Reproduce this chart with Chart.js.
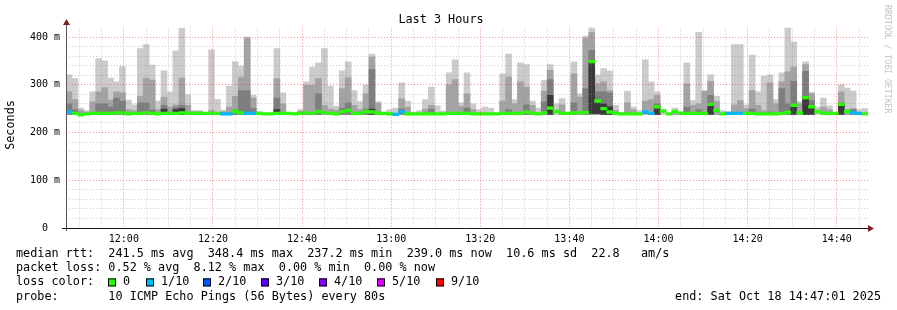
<!DOCTYPE html>
<html>
<head>
<meta charset="utf-8">
<script src="https://cdn.jsdelivr.net/npm/chart.js@4.4.0/dist/chart.umd.min.js"></script>
<style>
  html, body { margin: 0; padding: 0; background: #fff; }
</style>
</head>
<body>
<canvas id="smokeChart" width="897" height="310"></canvas>
<script>
// smokeping "Last 3 Hours" graph, one sample every 80s (135 samples)

const graphStart = "11:47:01";
const graphEnd = "14:47:01";
const stepSeconds = 80;
const hourTicks = ["12:00", "12:20", "12:40", "13:00", "13:20", "13:40", "14:00", "14:20", "14:40"];

// slowest ping of each sample (ms)
const rttMax = [
  321, 313, 251, 246, 285, 355, 350, 314, 306, 338, 268, 258, 376, 384, 341,
  266, 329, 285, 371, 418, 279, 246, 246, 241, 373, 269, 247, 297, 348, 339,
  400, 278, 244, 240, 240, 376, 283, 241, 241, 248, 306, 337, 346, 376, 297,
  255, 329, 348, 288, 265, 300, 364, 265, 243, 248, 251, 304, 266, 243, 246,
  269, 295, 256, 245, 325, 352, 262, 325, 260, 248, 253, 251, 240, 323, 364,
  269, 346, 342, 266, 251, 309, 342, 260, 271, 241, 348, 281, 402, 419, 320,
  334, 329, 257, 242, 287, 253, 246, 352, 306, 285, 248, 240, 251, 244, 346,
  267, 410, 288, 321, 276, 246, 244, 384, 384, 258, 362, 285, 318, 321, 269,
  325, 419, 390, 265, 348, 284, 253, 272, 256, 241, 300, 293, 287, 248, 250
];

// upper smoke bands (null where the band is not visible)
const smokeHigh = [
  285, 269, 246, 243, 264, 285, 294, 268, 285, 283, 248, 246, 276, 314, 310,
  248, 274, 253, 258, 314, 257, 244, 244, null, 246, null, 244, 253, 276, 316,
  398, 272, null, null, null, 313, 260, null, null, 245, 299, 299, 313, 257, 249,
  247, 292, 315, 257, 248, 281, 358, 261, null, null, null, 271, 253, null, null,
  249, 257, null, null, 300, 311, 255, 281, 248, null, null, null, null, 266, 316,
  260, 306, 295, 257, null, 287, 330, null, 258, null, 323, 274, 397, 410, 302,
  306, 288, 246, null, 262, 248, null, 266, 269, 278, null, null, 246, null, 302,
  257, 260, 286, 307, 265, null, null, 258, 267, 250, 288, 257, 246, 304, 260,
  306, 327, 337, 260, 342, 281, null, 253, 248, null, 285, 248, 250, null, null
];

const smokeMid = [
  260, 248, null, null, null, 260, 260, 253, 272, 266, null, null, 262, 262, 247,
  null, 257, null, 253, 257, null, null, null, null, null, null, null, null, 247, 288,
  288, 250, null, null, null, 272, null, null, null, null, 243, null, 281, null, null,
  null, 251, 262, null, null, 249, 332, null, null, null, null, 249, null, null, null,
  null, 249, null, null, null, null, null, 251, null, null, null, null, null, null, 248,
  null, null, 258, null, null, 264, 311, null, null, null, 262, null, 292, 372, 285,
  285, 283, null, null, null, null, null, null, null, 260, null, null, null, null, 253,
  null, 248, null, 278, null, null, null, null, null, null, 249, null, null, 243, null,
  292, 260, 307, null, 328, 267, null, null, null, null, 262, null, 248, null, null
];

const smokeCore = [
  null, null, null, null, null, null, null, null, null, null, null, null, null, null, null,
  null, 249, null, 248, 250, null, null, null, null, null, null, null, null, null, null,
  null, null, null, null, null, 248, null, null, null, null, null, null, null, null, null,
  null, null, null, null, null, null, 249, null, null, null, null, null, null, null, null,
  null, null, null, null, null, null, null, null, null, null, null, null, null, null, null,
  null, null, null, null, null, null, 278, null, null, null, null, null, null, 349, 267,
  260, 254, null, null, null, null, null, null, null, 257, null, null, null, null, null,
  null, null, null, 257, null, null, null, null, null, null, null, null, null, null, null,
  null, null, 257, null, 274, 257, null, null, null, null, 260, null, null, null, null
];

const rttMedian = [
  243, 240, 237.2, 239, 240, 240, 240, 240, 241, 241, 239, 240, 240, 241, 240,
  239, 240, 240, 240, 241, 240, 240, 240, 240, 240, 240, 239, 239, 244, 241,
  240, 240, 240, 239, 239, 240, 240, 240, 239, 240, 241, 240, 244, 241, 240,
  239, 244, 246, 240, 240, 244, 243, 240, 240, 239, 238, 243, 239, 239, 239,
  239, 239, 239, 239, 240, 240, 240, 240, 239, 239, 239, 239, 239, 240, 240,
  240, 240, 243, 240, 239, 241, 251, 244, 240, 240, 241, 241, 242, 348.4, 266,
  250, 243, 240, 239, 239, 239, 239, 243, 240, 254, 245, 239, 244, 240, 240,
  240, 240, 240, 259, 246, 239, 240, 240, 240, 240, 240, 239, 239, 239, 239,
  240, 242, 257, 241, 273, 254, 244, 240, 240, 240, 259, 244, 241, 240, 239
];

const rttMin = [
  238, 238, 237.2, 237.5, 238, 238, 238, 238, 238, 238, 237.5, 238, 238, 238, 238,
  237.5, 238, 238, 238, 238, 238, 238, 238, 238, 238, 238, 237.5, 237.5, 238, 238,
  238, 238, 238, 237.5, 237.5, 238, 238, 238, 237.5, 238, 238, 238, 238, 238, 238,
  237.5, 238, 238, 238, 238, 238, 238, 238, 238, 237.5, 237.5, 238, 237.5, 237.5, 237.5,
  237.5, 237.5, 237.5, 237.5, 238, 238, 238, 238, 237.5, 237.5, 237.5, 237.5, 237.5, 238, 238,
  238, 238, 238, 238, 237.5, 238, 238, 238, 238, 238, 238, 238, 238, 239, 239,
  238, 238, 238, 237.5, 237.5, 237.5, 237.5, 238, 238, 238, 238, 237.5, 238, 238, 238,
  238, 238, 238, 238, 238, 237.5, 238, 238, 238, 238, 238, 237.5, 237.5, 237.5, 237.5,
  238, 238, 238, 238, 238, 238, 238, 238, 238, 238, 238, 238, 238, 238, 237.5
];

// lost pings out of 10
const lossTenths = [
  1, 0, 0, 0, 0, 0, 0, 0, 0, 0, 0, 0, 0, 0, 0,
  0, 0, 0, 0, 0, 0, 0, 0, 0, 0, 0, 1, 1, 0, 0,
  1, 1, 0, 0, 0, 0, 0, 0, 0, 0, 0, 0, 0, 0, 0,
  0, 0, 0, 0, 0, 0, 0, 0, 0, 0, 1, 1, 0, 0, 0,
  0, 0, 0, 0, 0, 0, 0, 0, 0, 0, 0, 0, 0, 0, 0,
  0, 0, 0, 0, 0, 0, 0, 0, 0, 0, 0, 0, 0, 0, 0,
  0, 0, 0, 0, 0, 0, 0, 1, 1, 0, 0, 0, 0, 0, 0,
  0, 0, 0, 0, 0, 0, 1, 1, 1, 0, 0, 0, 0, 0, 0,
  0, 0, 0, 0, 0, 0, 0, 0, 0, 0, 0, 0, 1, 1, 0
];

const lossLabels = ["0", "1/10", "2/10", "3/10", "4/10", "5/10", "9/10"];
const lossColors = ["#26ff00", "#00b8ff", "#0059ff", "#5e00ff", "#7e00ff", "#dd00ff", "#ff0000"];

const legendLines = [
  "median rtt:  241.5 ms avg  348.4 ms max  237.2 ms min  239.0 ms now  10.6 ms sd  22.8   am/s",
  "packet loss: 0.52 % avg  8.12 % max  0.00 % min  0.00 % now",
  "loss color:",
  "probe:       10 ICMP Echo Pings (56 Bytes) every 80s"
];
const endLabel = "end: Sat Oct 18 14:47:01 2025";

// ---- helpers ----
function toMinutes(hms) {
  const p = hms.split(":").map(Number);
  return p[0] * 60 + p[1] + (p[2] || 0) / 60;
}

const axisStart = toMinutes(graphStart);
const axisEnd = toMinutes(graphEnd);
const sampleX = rttMax.map((_, i) => axisStart + ((i + 0.5) * stepSeconds) / 60);
const majorMinutes = hourTicks.map(toMinutes);

const gridMinutes = [];
for (let m = Math.ceil(axisStart / 5) * 5; m < axisEnd; m += 5) gridMinutes.push(m);

const MONO = '"DejaVu Sans Mono", "Liberation Mono", monospace';
const MEDIAN_HALF = 2.8; // half thickness of the median band, ms
const MAJOR_GRID = "rgba(220, 60, 60, 0.55)";
const MINOR_GRID = "rgba(140, 140, 140, 0.45)";

function lossColor(t) {
  return lossColors[Math.min(t, 6)];
}

function smokeLayer(tops, color, order) {
  const data = [];
  tops.forEach((v, i) => {
    if (v != null) data.push({ x: sampleX[i], y: [rttMin[i], v] });
  });
  return {
    data: data,
    backgroundColor: color,
    borderWidth: 0,
    grouped: false,
    barPercentage: 1,
    categoryPercentage: 1,
    order: order,
  };
}

const medianLayer = {
  data: rttMedian.map((v, i) => ({ x: sampleX[i], y: [v - MEDIAN_HALF, v + MEDIAN_HALF] })),
  backgroundColor: lossTenths.map(lossColor),
  borderWidth: 0,
  grouped: false,
  barPercentage: 1,
  categoryPercentage: 1,
  order: 0,
};

// rrdtool-ish frame, arrows and text
const decorations = {
  id: "decorations",
  beforeDraw(chart) {
    const ctx = chart.ctx;
    ctx.save();
    ctx.fillStyle = "#ffffff";
    ctx.fillRect(0, 0, chart.width, chart.height);
    ctx.restore();
  },
  afterDraw(chart) {
    const ctx = chart.ctx;
    const { left, right, top, bottom } = chart.chartArea;
    ctx.save();

    // axes
    ctx.lineWidth = 1;
    ctx.strokeStyle = "#555555";
    ctx.beginPath();
    ctx.moveTo(left + 0.5, bottom + 3);
    ctx.lineTo(left + 0.5, top - 5);
    ctx.stroke();
    ctx.strokeStyle = "#1a1a1a";
    ctx.beginPath();
    ctx.moveTo(left - 4, bottom + 0.5);
    ctx.lineTo(right + 1, bottom + 0.5);
    ctx.stroke();

    // arrows
    ctx.fillStyle = "#7f1f1f";
    ctx.beginPath();
    ctx.moveTo(left - 3, top - 2.5);
    ctx.lineTo(left + 4, top - 2.5);
    ctx.lineTo(left + 0.5, top - 8.5);
    ctx.closePath();
    ctx.fill();
    ctx.beginPath();
    ctx.moveTo(right, bottom - 3);
    ctx.lineTo(right, bottom + 4);
    ctx.lineTo(right + 6, bottom + 0.5);
    ctx.closePath();
    ctx.fill();

    // title
    ctx.fillStyle = "#000000";
    ctx.font = "11.8px " + MONO;
    ctx.textAlign = "center";
    ctx.textBaseline = "middle";
    ctx.fillText("Last 3 Hours", 441, 20);

    // vertical axis label
    ctx.save();
    ctx.translate(11, 125);
    ctx.rotate(-Math.PI / 2);
    ctx.fillText("Seconds", 0, 0);
    ctx.restore();

    // watermark
    ctx.save();
    ctx.fillStyle = "#c4c4c4";
    ctx.font = "8.2px " + MONO;
    ctx.translate(887, 5);
    ctx.rotate(Math.PI / 2);
    ctx.textAlign = "left";
    ctx.fillText("RRDTOOL / TOBI OETIKER", 0, 0);
    ctx.restore();

    // legend block
    ctx.textAlign = "left";
    ctx.font = "11.8px " + MONO;
    const lineY = [254, 268.2, 282.4, 296.6];
    legendLines.forEach((t, i) => ctx.fillText(t, 16, lineY[i]));

    const boxX = [108, 146, 203, 261, 319, 377, 436];
    lossLabels.forEach((lab, i) => {
      ctx.fillStyle = lossColors[i];
      ctx.fillRect(boxX[i], lineY[2] - 4, 8, 8);
      ctx.strokeStyle = "#000000";
      ctx.strokeRect(boxX[i] + 0.5, lineY[2] - 3.5, 7, 7);
      ctx.fillStyle = "#000000";
      ctx.fillText(lab, boxX[i] + 15, lineY[2]);
    });

    ctx.textAlign = "right";
    ctx.fillText(endLabel, 881, lineY[3]);

    ctx.restore();
  },
};

new Chart(document.getElementById("smokeChart"), {
  type: "bar",
  data: {
    datasets: [
      smokeLayer(rttMax, "#cbcbcb", 4),
      smokeLayer(smokeHigh, "#a3a3a3", 3),
      smokeLayer(smokeMid, "#7e7e7e", 2),
      smokeLayer(smokeCore, "#3a3a3a", 1),
      medianLayer,
    ],
  },
  options: {
    responsive: false,
    animation: false,
    devicePixelRatio: 1,
    layout: { padding: { top: 27.45, right: 29, bottom: 62, left: 0 } },
    plugins: {
      legend: { display: false },
      title: { display: false },
      tooltip: { enabled: false },
    },
    scales: {
      x: {
        type: "linear",
        min: axisStart,
        max: axisEnd,
        offset: false,
        grid: {
          offset: false,
          drawTicks: false,
          z: 1,
          lineWidth: 1,
          color: (c) => (majorMinutes.includes(c.tick.value) ? MAJOR_GRID : MINOR_GRID),
        },
        border: { display: false, dash: [1, 2] },
        ticks: {
          autoSkip: false,
          maxRotation: 0,
          padding: 5,
          color: "#000000",
          font: { family: MONO, size: 10 },
          callback: (v) => {
            const k = majorMinutes.indexOf(v);
            return k >= 0 ? hourTicks[k] : "";
          },
        },
        afterBuildTicks: (axis) => {
          axis.ticks = gridMinutes.map((m) => ({ value: m }));
        },
        afterFit: (axis) => {
          axis.height = 20;
        },
      },
      y: {
        min: 0,
        max: 420,
        grid: {
          drawTicks: false,
          z: 1,
          lineWidth: 1,
          color: (c) => {
            const v = c.tick.value;
            if (v === 0 || v === 420) return "rgba(0,0,0,0)";
            return v % 100 === 0 ? MAJOR_GRID : MINOR_GRID;
          },
        },
        border: { display: false, dash: [1, 2] },
        ticks: {
          stepSize: 20,
          autoSkip: false,
          padding: 6,
          color: "#000000",
          font: { family: MONO, size: 10 },
          callback: (v) => (v % 100 === 0 ? (v === 0 ? "0  " : v + " m") : ""),
        },
        afterFit: (axis) => {
          axis.width = 66;
        },
      },
    },
  },
  plugins: [decorations],
});
</script>
</body>
</html>
